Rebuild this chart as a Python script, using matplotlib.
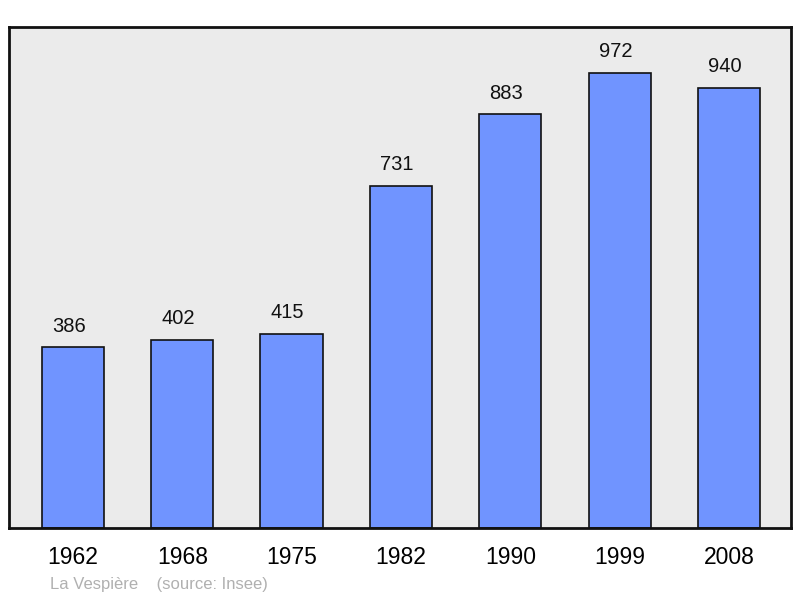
import matplotlib.pyplot as plt

years = ['1962', '1968', '1975', '1982', '1990', '1999', '2008']
population = [386, 402, 415, 731, 883, 972, 940]

plt.rcParams['font.family'] = ['Liberation Sans', 'DejaVu Sans']

fig = plt.figure(figsize=(8, 5.98), dpi=100)
ax = fig.add_axes([0.01125, 0.117, 0.9775, 0.838])
ax.set_facecolor('#ebebeb')

x = range(len(years))
ax.bar(x, population, width=0.57, color='#7094ff', edgecolor='#111111', linewidth=1.2, zorder=2)
for i, v in zip(x, population):
    ax.text(i - 0.04, v + 25, str(v), ha='center', va='bottom', fontsize=14.5, color='#111111')

ax.set_xlim(-0.585, 6.567)
ax.set_ylim(0, 1070)
ax.set_yticks([])
ax.set_xticks(list(x))
ax.set_xticklabels(years, fontsize=16.5)
ax.tick_params(axis='x', length=0, pad=13)
for s in ax.spines.values():
    s.set_linewidth(2)
    s.set_color('#111111')

fig.text(0.062, 0.015, 'La Vespière    (source: Insee)', fontsize=12, color='#b0b0b0')

fig.savefig('out.png', dpi=100)
